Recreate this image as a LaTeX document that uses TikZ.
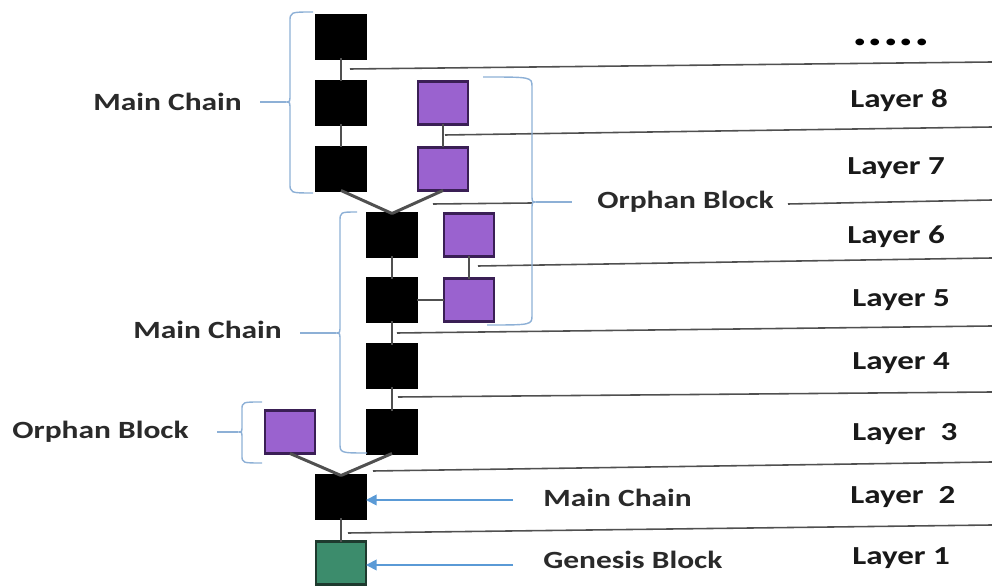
\documentclass[tikz,border=0pt]{standalone}
\usepackage{fontspec}
\setmainfont{Carlito}[FakeStretch=1.27]
\usetikzlibrary{arrows.meta}
\definecolor{chaingray}{HTML}{505050}
\definecolor{orphan}{HTML}{9A62CF}
\definecolor{orphanedge}{HTML}{3A1F55}
\definecolor{genesis}{HTML}{3C8C6C}
\definecolor{genesisedge}{HTML}{1E3A2E}
\definecolor{bracecol}{HTML}{8DB0D6}
\definecolor{arrowcol}{HTML}{5A9AD6}
\definecolor{labelcol}{HTML}{2A2A2A}

\begin{document}
\begin{tikzpicture}[x=0.02cm,y=-0.02cm,
  block/.style={minimum width=1cm, minimum height=0.86cm, inner sep=0pt,
                outer sep=0pt, line width=1.2pt},
  mainblk/.style={block, fill=black, draw=black},
  orphblk/.style={block, fill=orphan, draw=orphanedge},
  genblk/.style={block, fill=genesis, draw=genesisedge},
  link/.style={draw=chaingray, line width=1.7pt},
  layerline/.style={draw=chaingray, line width=0.9pt},
  brace/.style={draw=bracecol, line width=0.8pt},
  pointer/.style={draw=arrowcol, line width=1pt, -{Triangle[length=6pt,width=6pt]}},
  lbl/.style={font=\bfseries\fontsize{14.1}{16}\selectfont, text=labelcol,
              inner sep=0pt, anchor=west},
  layerlbl/.style={lbl, font=\bfseries\fontsize{14.8}{16}\selectfont, text=black!90}]

\useasboundingbox (0,0) rectangle (992,587);

% ---- blocks ----
\node[mainblk] (A1) at (341,37)  {};
\node[mainblk] (A2) at (341,103) {};
\node[mainblk] (A3) at (341,169) {};
\node[orphblk] (B1) at (443,103) {};
\node[orphblk] (B2) at (443,169) {};
\node[mainblk] (C1) at (392,235) {};
\node[mainblk] (C2) at (392,300) {};
\node[mainblk] (C3) at (392,366) {};
\node[mainblk] (C4) at (392,432) {};
\node[orphblk] (D1) at (469,235) {};
\node[orphblk] (D2) at (469,300) {};
\node[orphblk] (E)  at (290,432) {};
\node[mainblk] (F)  at (341,497) {};
\node[genblk]  (G)  at (341,563) {};

% ---- chain links ----
\draw[link] (A1) -- (A2);
\draw[link] (A2) -- (A3);
\draw[link] (B1) -- (B2);
\draw[link] (A3.south) -- (C1.north);
\draw[link] (B2.south) -- (C1.north);
\draw[link] (C1) -- (C2);
\draw[link] (C2) -- (C3);
\draw[link] (C3) -- (C4);
\draw[link] (D1) -- (D2);
\draw[link] (C2) -- (D2);
\draw[link] (E.south) -- (F.north);
\draw[link] (C4.south) -- (F.north);
\draw[link] (F) -- (G);

% ---- layer separators ----
\coordinate (s1a) at (350,69);  \coordinate (s1b) at (992,62);
\coordinate (s2a) at (445,135); \coordinate (s2b) at (992,127);
\coordinate (s3a) at (433,204); \coordinate (s3b) at (532,203);
\coordinate (s3c) at (788,204); \coordinate (s3d) at (992,200);
\coordinate (s4a) at (478,266); \coordinate (s4b) at (992,258);
\coordinate (s5a) at (397,333); \coordinate (s5b) at (992,326);
\coordinate (s6a) at (398,397); \coordinate (s6b) at (992,392);
\coordinate (s7a) at (373,471); \coordinate (s7b) at (992,462);
\coordinate (s8a) at (348,533); \coordinate (s8b) at (992,525);
\draw[layerline] (s1a) -- (s1b);
\draw[layerline] (s2a) -- (s2b);
\draw[layerline] (s3a) -- (s3b);
\draw[layerline] (s3c) -- (s3d);
\draw[layerline] (s4a) -- (s4b);
\draw[layerline] (s5a) -- (s5b);
\draw[layerline] (s6a) -- (s6b);
\draw[layerline] (s7a) -- (s7b);
\draw[layerline] (s8a) -- (s8b);

% ---- braces ----
% upper main chain (opens to the right)
\draw[brace] (313,12) .. controls (290,12) .. (290,22) -- (290,94)
  .. controls (290,102) .. (286,102) .. controls (290,102) .. (290,110)
  -- (290,183) .. controls (290,193) .. (313,193);
\draw[brace] (260,102) -- (286,102);
% lower main chain
\draw[brace] (357,212) .. controls (340,212) .. (340,222) -- (340,325)
  .. controls (340,333) .. (336,333) .. controls (340,333) .. (340,341)
  -- (340,443) .. controls (340,453) .. (367,453);
\draw[brace] (300,333) -- (336,333);
% left orphan block
\draw[brace] (262,402) .. controls (242,402) .. (242,410) -- (242,426)
  .. controls (242,432) .. (238,432) .. controls (242,432) .. (242,438)
  -- (242,455) .. controls (242,463) .. (262,463);
\draw[brace] (217,432) -- (238,432);
% right orphan blocks (opens to the left)
\draw[brace] (483,77) .. controls (532,77) .. (532,87) -- (532,194)
  .. controls (532,202) .. (536,202) .. controls (532,202) .. (532,210)
  -- (532,315) .. controls (532,325) .. (487,325);
\draw[brace] (536,202) -- (572,202);

% ---- pointers ----
\coordinate (p1) at (513,500);
\coordinate (p2) at (513,565);
\draw[pointer] (p1) -- (F.east |- p1);
\draw[pointer] (p2) -- (G.east |- p2);

% ---- labels ----
\node[lbl] (tMainTop) at (93,102)  {Main Chain};
\node[lbl] (tMainMid) at (133,330) {Main Chain};
\node[lbl] (tOrphL)   at (12,432)  {Orphan Block};
\node[lbl] (tOrphR)   at (597,202) {Orphan Block};
\node[lbl] (tMainF)   at (543,498) {Main Chain};
\node[lbl] (tGen)     at (543,560) {Genesis Block};

\node[font=\bfseries\fontsize{26}{27}\selectfont, inner sep=0pt, text=black]
  (dots) at (891,42) {.....};
\node[layerlbl] (L8) at (850,101) {Layer 8};
\node[layerlbl] (L7) at (847,168) {Layer 7};
\node[layerlbl] (L6) at (847,237) {Layer 6};
\node[layerlbl] (L5) at (852,300) {Layer 5};
\node[layerlbl] (L4) at (852,363) {Layer 4};
\node[layerlbl] (L3) at (852,434) {Layer\ \ 3};
\node[layerlbl] (L2) at (850,497) {Layer\ \ 2};
\node[layerlbl] (L1) at (852,558) {Layer 1};
\end{tikzpicture}
\end{document}
